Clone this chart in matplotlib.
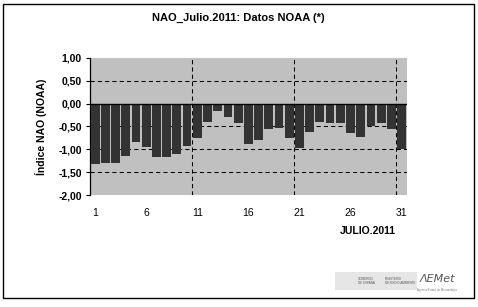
import matplotlib
matplotlib.use('Agg')
import matplotlib.pyplot as plt
import matplotlib.patches as patches

# Daily NAO index, July 2011 (NOAA)
days = list(range(1, 32))
nao = [-1.32, -1.31, -1.29, -1.14, -0.83, -0.94, -1.16, -1.16, -1.11, -0.92,
       -0.76, -0.41, -0.17, -0.30, -0.43, -0.89, -0.80, -0.56, -0.54, -0.76,
       -0.96, -0.61, -0.40, -0.43, -0.43, -0.65, -0.72, -0.48, -0.43, -0.56,
       -1.00]
x_ticks = [1, 6, 11, 16, 21, 26, 31]
y_ticks = [1.0, 0.5, 0.0, -0.5, -1.0, -1.5, -2.0]
y_labels = ['1,00', '0,50', '0,00', '-0,50', '-1,00', '-1,50', '-2,00']

plt.rcParams['font.family'] = ['Liberation Sans', 'DejaVu Sans']

fig = plt.figure(figsize=(4.78, 3.07), dpi=100)
fig.patch.set_facecolor('white')
ax = fig.add_axes([0.1883, 0.3648, 0.8508 - 0.1883, 0.8111 - 0.3648])
ax.set_facecolor('#c0c0c0')

ax.bar(days, nao, width=0.86, color='#333333', zorder=3)

# gridlines
for y in [0.5, -0.5, -1.0, -1.5]:
    ax.axhline(y, color='black', lw=0.75, ls=(0, (4, 3)), zorder=2)
for x in [10.5, 20.5, 30.5]:
    ax.axvline(x, color='black', lw=0.75, ls=(0, (4, 3)), zorder=4)
ax.axhline(0, color='black', lw=1.0, zorder=5)

ax.set_xlim(0.5, 31.5)
ax.set_ylim(-2.0, 1.0)
ax.set_yticks(y_ticks)
ax.set_yticklabels(y_labels, fontsize=7.5, fontweight='bold')
ax.set_xticks(x_ticks)
ax.set_xticklabels([str(d) for d in x_ticks], fontsize=7.5)
ax.tick_params(axis='x', length=0, pad=9)
ax.tick_params(axis='y', direction='out', length=3, width=0.8, pad=3)
for s in ['top', 'right', 'bottom']:
    ax.spines[s].set_visible(False)
ax.spines['left'].set_linewidth(0.9)

ax.set_ylabel('Índice NAO (NOAA)', fontsize=7.5, fontweight='bold', labelpad=8)
fig.text(0.498, 1 - 18 / 307, 'NAO_Julio.2011: Datos NOAA (*)', fontsize=8,
         fontweight='bold', ha='center', va='center')
fig.text(368 / 478, 1 - 231 / 307, 'JULIO.2011', fontsize=7.5,
         fontweight='bold', ha='center', va='center')

# outer border
fig.add_artist(patches.Rectangle((3 / 478, 1 - 298 / 307), 471 / 478, 294 / 307,
                                 transform=fig.transFigure, fill=False,
                                 edgecolor='black', lw=1.0))

# logo block
fig.add_artist(patches.Rectangle((335 / 478, 1 - 290 / 307), 82 / 478, 18 / 307,
                                 transform=fig.transFigure, facecolor='#e6e6e6',
                                 edgecolor='none'))
fig.text(358 / 478, 1 - 281 / 307, 'GOBIERNO\nDE ESPAÑA', fontsize=2.2,
         color='#555555', ha='left', va='center')
fig.text(385 / 478, 1 - 281 / 307, 'MINISTERIO\nDE MEDIO AMBIENTE', fontsize=2.2,
         color='#555555', ha='left', va='center')
fig.text(437 / 478, 1 - 279 / 307, 'ΛEMet', fontsize=8, color='#555555',
         style='italic', ha='center', va='center', family='DejaVu Sans')
fig.text(437 / 478, 1 - 290 / 307, 'Agencia Estatal de Meteorología', fontsize=2,
         color='#777777', ha='center', va='center')

fig.savefig('out.png', dpi=100)
